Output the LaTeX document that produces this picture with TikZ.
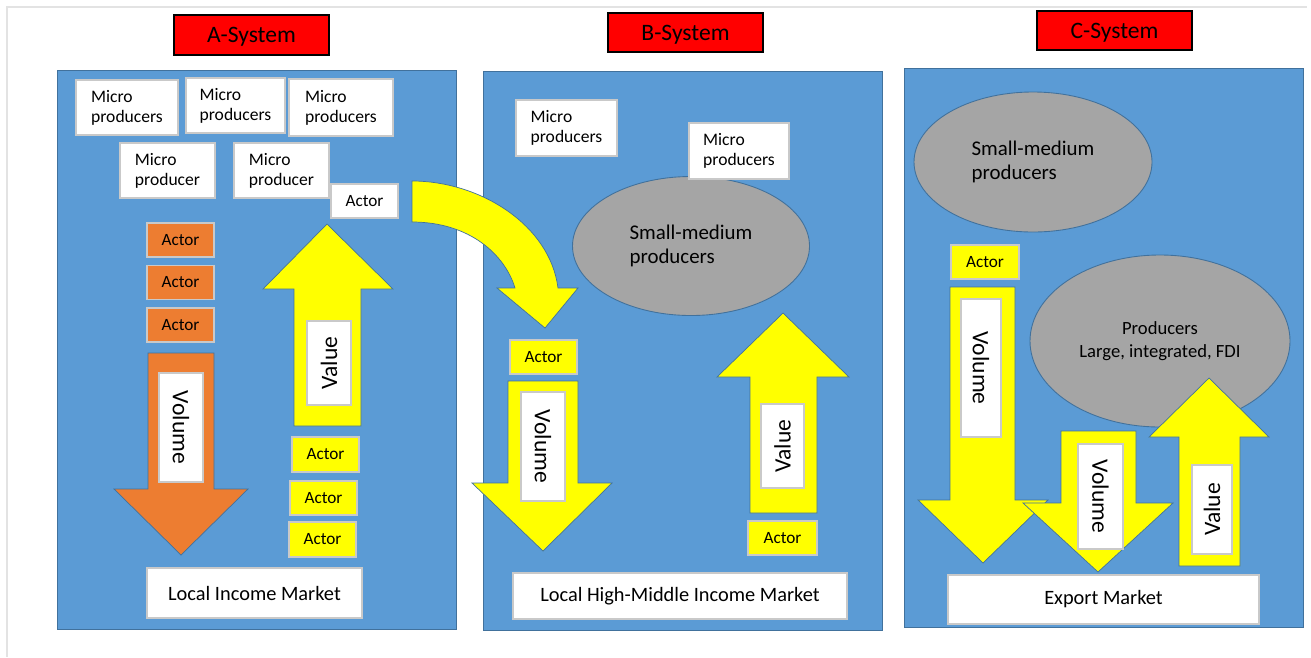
\documentclass[tikz,border=0pt]{standalone}
\usepackage{fontspec}
\setmainfont{Carlito}
\usetikzlibrary{shapes.geometric}

\definecolor{panelblue}{HTML}{5B9BD5}
\definecolor{paneledge}{HTML}{41719C}
\definecolor{titlered}{HTML}{FF0000}
\definecolor{actororange}{HTML}{ED7D31}
\definecolor{flowyellow}{HTML}{FFFF00}
\definecolor{groupgray}{HTML}{A5A5A5}
\definecolor{boxedge}{HTML}{C9C9C9}
\definecolor{frameline}{HTML}{E3E3E3}

\begin{document}
\begin{tikzpicture}[x=0.02cm,y=-0.02cm,
    sz/.style 2 args={minimum width=#1*0.02cm,minimum height=#2*0.02cm},
    title/.style={draw=black,line width=0.9pt,fill=titlered,inner sep=0pt,text depth=0pt,font=\fontsize{13.4}{16}\selectfont},
    panel/.style={draw=paneledge,line width=0.5pt,fill=panelblue,inner sep=0pt},
    wbox/.style={draw=boxedge,line width=0.8pt,fill=white,inner sep=0pt,align=left,font=\fontsize{10}{11.5}\selectfont},
    actor/.style={wbox,font=\fontsize{9.8}{11}\selectfont},
    market/.style={wbox,font=\fontsize{11.6}{13}\selectfont},
    flowlabel/.style={wbox,font=\fontsize{13.4}{15}\selectfont},
    group/.style={ellipse,draw=paneledge,line width=0.5pt,fill=groupgray,inner sep=0pt,align=left},
    flow/.style={draw=paneledge,line width=0.4pt,fill=#1,line join=miter}
  ]
  \useasboundingbox (0,0) rectangle (1311,657);
  \draw[frameline,line width=0.8pt] (7,657) -- (7,7) -- (1307,7);

  % A-System
  \node[title,sz={155}{40}] (titleA) at (251.5,35) {A-System};
  \node[panel,sz={399}{559}] (panelA) at (256.5,349.5) {};
  \node[wbox,sz={102}{55}] (microA1) at (127,107.5) {Micro\\producers};
  \node[wbox,sz={99}{55}] (microA2) at (235.5,105.5) {Micro\\producers};
  \node[wbox,sz={104}{57}] (microA3) at (341,107.5) {Micro\\producers};
  \node[wbox,sz={95}{55}] (microA4) at (167.5,170.5) {Micro\\producer};
  \node[wbox,sz={95}{55}] (microA5) at (281.5,170.5) {Micro\\producer};
  \node[actor,sz={67}{34}] (actorA) at (364.5,201) {Actor};
  \foreach \i/\y in {1/240,2/282.5,3/325}
    \node[actor,fill=actororange,sz={67}{34}] (orangeA\i) at (180.5,\y) {Actor};
  \draw[flow=actororange] (148,353) -- (214,353) -- (214,489) -- (248,489) -- (181,555)
    -- (114,489) -- (148,489) -- cycle;
  \node[flowlabel,rotate=-90,sz={109}{44}] (volumeA) at (181,427.5) {Volume};
  \draw[flow=flowyellow] (294,426) -- (294,289) -- (263,289) -- (327,224) -- (393,289)
    -- (361,289) -- (361,426) -- cycle;
  \node[flowlabel,rotate=90,sz={84}{44}] (valueA) at (329,363) {Value};
  \node[actor,fill=flowyellow,sz={67}{35}] (yellowA1) at (325.5,454.5) {Actor};
  \node[actor,fill=flowyellow,sz={67}{34}] (yellowA2) at (323.5,498) {Actor};
  \node[actor,fill=flowyellow,sz={67}{35}] (yellowA3) at (322.5,539.5) {Actor};
  \node[market,sz={215}{50}] (marketA) at (254.5,593) {Local Income Market};

  % B-System
  \node[title,sz={155}{39}] (titleB) at (685.5,32.5) {B-System};
  \node[panel,sz={399}{559}] (panelB) at (682.5,350.5) {};
  \node[wbox,sz={101}{56}] (microB1) at (566.5,128) {Micro\\producers};
  \node[group,sz={237}{139},font=\fontsize{11.9}{14}\selectfont] (smallB) at (691,246) {Small-medium\\producers};
  \node[wbox,sz={100}{56}] (microB2) at (739,151) {Micro\\producers};
  \node[actor,fill=flowyellow,sz={67}{34}] (actorB1) at (543.5,357) {Actor};
  \draw[flow=flowyellow] (508,381) -- (578,381) -- (578,483) -- (612,483) -- (543,551)
    -- (472,483) -- (508,483) -- cycle;
  \node[flowlabel,rotate=-90,sz={109}{44}] (volumeB) at (543,446.5) {Volume};
  \draw[flow=flowyellow] (750,513) -- (750,377) -- (717,377) -- (783,313) -- (849,377)
    -- (817,377) -- (817,513) -- cycle;
  \node[flowlabel,rotate=90,sz={84}{43}] (valueB) at (782.5,446) {Value};
  \node[actor,fill=flowyellow,sz={69}{34}] (actorB2) at (782.5,538) {Actor};
  \node[market,sz={334}{46}] (marketB) at (680,596) {Local High-Middle Income Market};

  % curved hand-over from A to B
  \draw[flow=flowyellow] (412,181) .. controls (480,181) and (550,225) .. (558,288)
    -- (578,288) -- (545,328) -- (497,288) -- (515,288)
    .. controls (505,255) and (470,222) .. (412,222) -- cycle;

  % C-System
  \node[title,sz={155}{39}] (titleC) at (1114.5,30.5) {C-System};
  \node[panel,sz={399}{559}] (panelC) at (1103.5,347.5) {};
  \node[group,sz={238}{140},font=\fontsize{11.9}{14}\selectfont] (smallC) at (1033,162) {Small-medium\\producers};
  \node[actor,fill=flowyellow,sz={68}{34}] (actorC) at (985,262) {Actor};
  \draw[flow=flowyellow] (950,287) -- (1015,287) -- (1015,500) -- (1048,500) -- (983,563)
    -- (918,500) -- (950,500) -- cycle;
  \node[flowlabel,rotate=-90,sz={138}{40}] (volumeC1) at (981,368) {Volume};
  \node[group,sz={260}{172},align=center,font=\fontsize{10.6}{13.5}\selectfont] (largeC) at (1160,341) {Producers\\Large, integrated, FDI};
  \draw[flow=flowyellow] (1061,431) -- (1136,431) -- (1136,503) -- (1173,503) -- (1098,572)
    -- (1023,503) -- (1061,503) -- cycle;
  \node[flowlabel,rotate=-90,sz={105}{45}] (volumeC2) at (1100.5,496.5) {Volume};
  \draw[flow=flowyellow] (1179,566) -- (1179,437) -- (1149,437) -- (1209,378) -- (1269,437)
    -- (1240,437) -- (1240,566) -- cycle;
  \node[flowlabel,rotate=90,sz={89}{40}] (valueC) at (1212,509.5) {Value};
  \node[market,sz={311}{49}] (marketC) at (1103.5,599.5) {Export Market};
\end{tikzpicture}
\end{document}
